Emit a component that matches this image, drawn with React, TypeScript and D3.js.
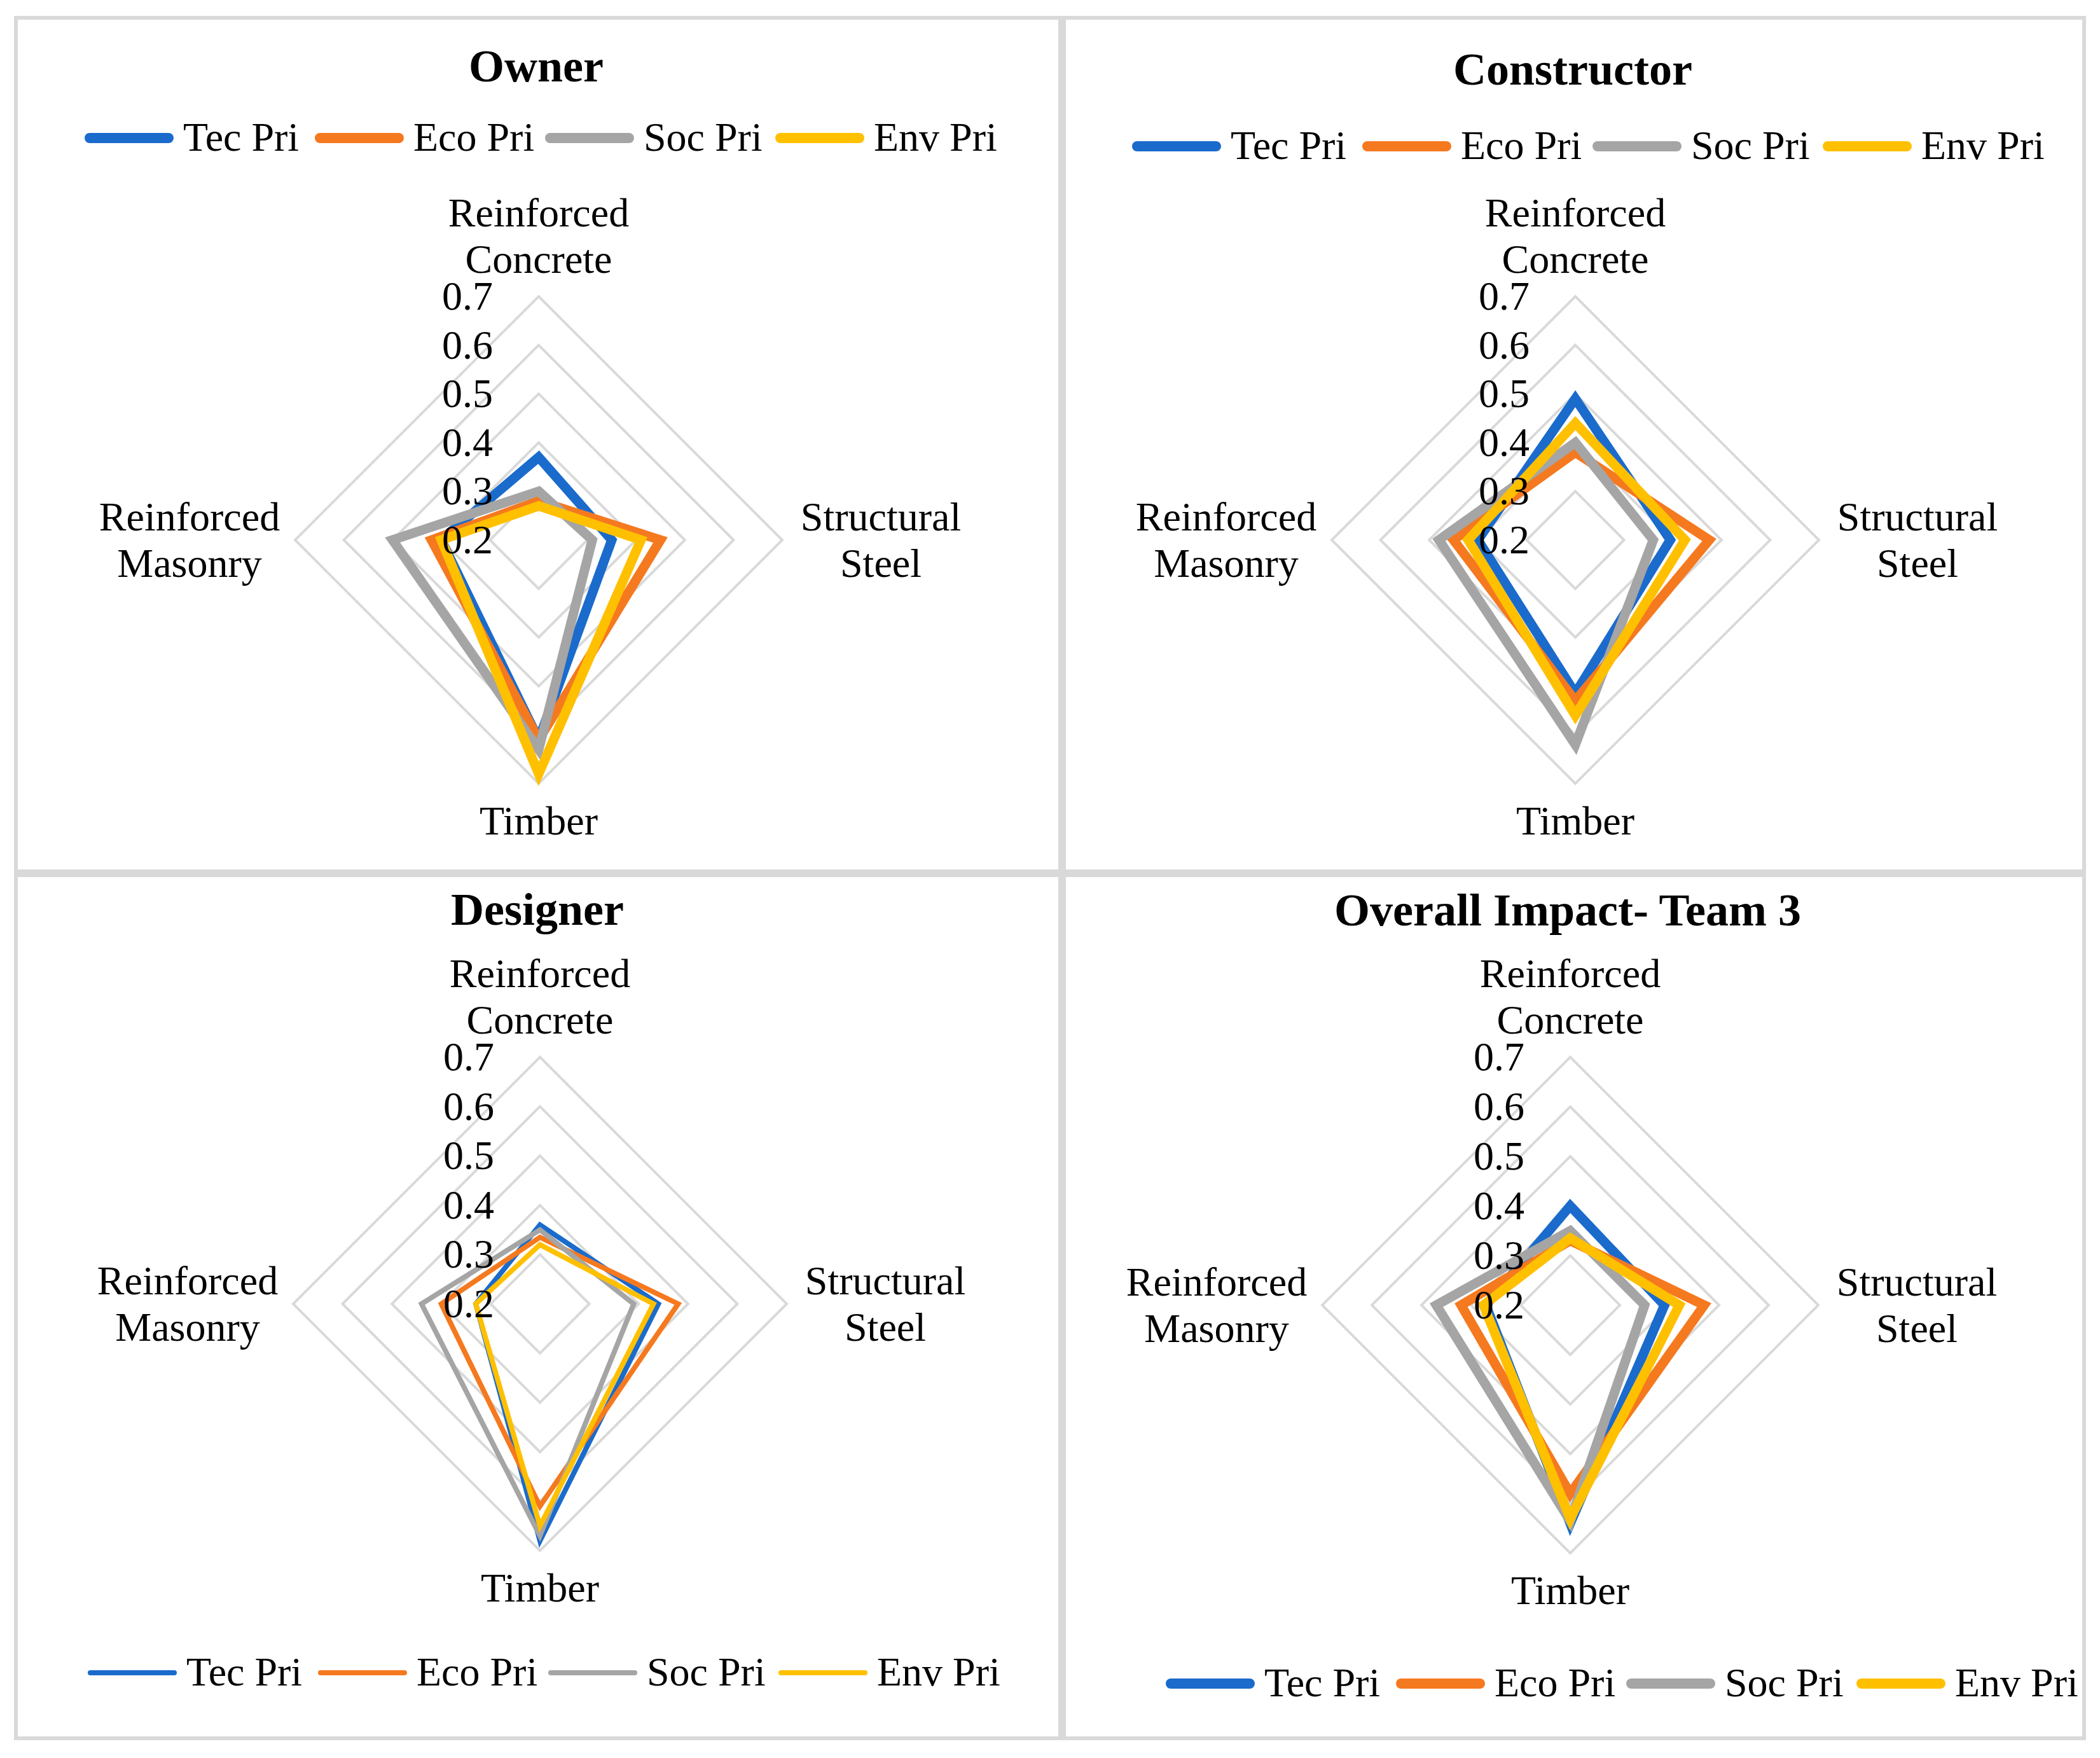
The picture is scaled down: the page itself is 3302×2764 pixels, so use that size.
import React, { useEffect, useRef } from 'react';
import * as d3 from 'd3';

const categories = [['Reinforced', 'Concrete'], ['Structural', 'Steel'], ['Timber'], ['Reinforced', 'Masonry']];
const seriesNames = ['Tec Pri', 'Eco Pri', 'Soc Pri', 'Env Pri'];
const seriesColors = ['#1a6bcc', '#f5791f', '#a5a5a5', '#ffc000'];
const radialTicks = [0.2, 0.3, 0.4, 0.5, 0.6, 0.7];

// values in category order: concrete, steel, timber, masonry
const ownerTec = [0.37, 0.35, 0.61, 0.40];
const ownerEco = [0.28, 0.45, 0.61, 0.42];
const ownerSoc = [0.30, 0.31, 0.63, 0.50];
const ownerEnv = [0.27, 0.41, 0.68, 0.40];

const constructorTec = [0.49, 0.395, 0.515, 0.40];
const constructorEco = [0.38, 0.475, 0.53, 0.45];
const constructorSoc = [0.40, 0.36, 0.62, 0.48];
const constructorEnv = [0.44, 0.425, 0.56, 0.42];

const designerTec = [0.36, 0.44, 0.68, 0.33];
const designerEco = [0.335, 0.48, 0.61, 0.40];
const designerSoc = [0.35, 0.39, 0.67, 0.44];
const designerEnv = [0.32, 0.43, 0.65, 0.33];

const overallTec = [0.40, 0.39, 0.64, 0.37];
const overallEco = [0.33, 0.47, 0.58, 0.42];
const overallSoc = [0.35, 0.35, 0.635, 0.47];
const overallEnv = [0.335, 0.42, 0.63, 0.375];

const FONT = '"Liberation Serif", "Times New Roman", serif';

const panels = [
  { title: 'Owner', series: [ownerTec, ownerEco, ownerSoc, ownerEnv], box: [25, 28, 1642, 1342],
    cx: 847, cy: 849, R: 383, titleY: 128, legendY: 217, legendX: 133, lw: 15, legW: 16 },
  { title: 'Constructor', series: [constructorTec, constructorEco, constructorSoc, constructorEnv], box: [1673, 28, 1604, 1342],
    cx: 2477, cy: 849, R: 383, titleY: 133, legendY: 230, legendX: 1780, lw: 15, legW: 16 },
  { title: 'Designer', series: [designerTec, designerEco, designerSoc, designerEnv], box: [25, 1376, 1642, 1357],
    cx: 849, cy: 2050, R: 388, titleY: 1454, legendY: 2630, legendX: 138, lw: 8, legW: 8 },
  { title: 'Overall Impact- Team 3', series: [overallTec, overallEco, overallSoc, overallEnv], box: [1673, 1376, 1604, 1357],
    cx: 2469, cy: 2052, R: 390, titleY: 1455, legendY: 2647, legendX: 1833, lw: 15, legW: 16 },
];

const App = () => {
  const ref = useRef<SVGSVGElement | null>(null);

  useEffect(() => {
    const svg = d3.select(ref.current);
    svg.selectAll('*').remove();

    svg.append('rect').attr('width', 3302).attr('height', 2764).attr('fill', '#fff');

    panels.forEach((p) => {
      const g = svg.append('g');
      g.append('rect')
        .attr('x', p.box[0]).attr('y', p.box[1])
        .attr('width', p.box[2]).attr('height', p.box[3])
        .attr('fill', 'none').attr('stroke', '#d9d9d9').attr('stroke-width', 6);

      const r = d3.scaleLinear().domain([0.2, 0.7]).range([0, p.R]);
      const angle = (i: number) => (i * Math.PI) / 2;

      const chart = g.append('g').attr('transform', `translate(${p.cx},${p.cy})`);

      const radial: any = d3.lineRadial<number>()
        .angle((_d, i) => angle(i))
        .radius((d) => r(d))
        .curve(d3.curveLinearClosed);

      // grid rings
      radialTicks.slice(1).forEach((t) => {
        chart.append('path')
          .attr('d', radial(categories.map(() => t)))
          .attr('fill', 'none')
          .attr('stroke', '#d9d9d9')
          .attr('stroke-width', 4);
      });

      // series
      p.series.forEach((vals, si) => {
        chart.append('path')
          .attr('d', radial(vals))
          .attr('fill', 'none')
          .attr('stroke', seriesColors[si])
          .attr('stroke-width', p.lw)
          .attr('stroke-linejoin', 'miter');
      });

      // tick labels
      radialTicks.forEach((t) => {
        chart.append('text')
          .attr('x', -72)
          .attr('y', -r(t) + 21)
          .attr('text-anchor', 'end')
          .attr('font-family', FONT)
          .attr('font-size', 64)
          .text(t.toFixed(1));
      });

      // category labels
      const R = p.R;
      const catPos = [
        { x: 0, y: -R - 110 },
        { x: R + 155, y: -15 },
        { x: 0, y: R + 80 },
        { x: -R - 166, y: -15 },
      ];
      categories.forEach((lines, ci) => {
        const t = chart.append('text')
          .attr('text-anchor', 'middle')
          .attr('font-family', FONT)
          .attr('font-size', 64);
        lines.forEach((ln, li) => {
          t.append('tspan')
            .attr('x', catPos[ci].x)
            .attr('y', catPos[ci].y + li * 73)
            .text(ln);
        });
      });

      // title
      g.append('text')
        .attr('x', p.cx - 4)
        .attr('y', p.titleY)
        .attr('text-anchor', 'middle')
        .attr('font-family', FONT)
        .attr('font-weight', 'bold')
        .attr('font-size', 72)
        .text(p.title);

      // legend
      seriesNames.forEach((name, si) => {
        const x0 = p.legendX + si * 362;
        g.append('line')
          .attr('x1', x0 + p.legW / 2).attr('x2', x0 + 140 - p.legW / 2)
          .attr('y1', p.legendY).attr('y2', p.legendY)
          .attr('stroke', seriesColors[si])
          .attr('stroke-width', p.legW)
          .attr('stroke-linecap', 'round');
        g.append('text')
          .attr('x', x0 + 155)
          .attr('y', p.legendY + 20)
          .attr('font-family', FONT)
          .attr('font-size', 64)
          .text(name);
      });
    });
  }, []);

  return (
    <svg
      ref={ref}
      width={3302}
      height={2764}
      style={{ position: 'absolute', left: 0, top: 0, display: 'block' }}
    />
  );
};

export default App;
